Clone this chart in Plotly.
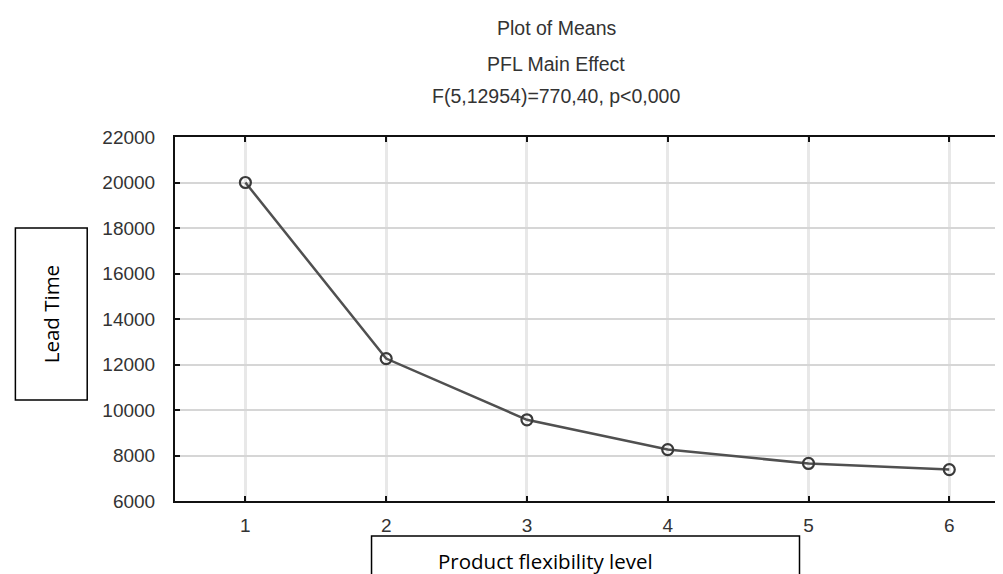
import plotly.graph_objects as go

# Plot of means: lead time by product flexibility level
levels = [1, 2, 3, 4, 5, 6]
lead_time = [20000, 12260, 9570, 8260, 7650, 7380]

y_ticks = [6000, 8000, 10000, 12000, 14000, 16000, 18000, 20000, 22000]

title_lines = ["Plot of Means", "PFL Main Effect", "F(5,12954)=770,40, p<0,000"]
x_title = "Product flexibility level"
y_title = "Lead Time"

# plot area in pixels
W, H = 1003, 574
L, R, T, B = 167, 1001, 129, 493


def px(x):
    return (x - L) / (R - L)


def py(y):
    return (B - y) / (B - T)


fig = go.Figure()
fig.add_trace(go.Scatter(
    x=levels, y=lead_time, mode="lines+markers",
    line=dict(color="#505050", width=2.5),
    marker=dict(symbol="circle-open", size=11, color="#3a3a3a", line=dict(width=2.2)),
    showlegend=False,
))

tick_font = dict(family="Liberation Sans, Arial", size=19, color="#333")

fig.update_xaxes(
    range=[0.5, 6.41], tickvals=levels, ticktext=[str(v) for v in levels],
    showgrid=True, gridcolor="#e8e8e8", gridwidth=3,
    showline=True, linecolor="#111", linewidth=2, mirror="ticks",
    ticks="inside", ticklen=5, tickcolor="#111", tickwidth=2,
    tickfont=tick_font, ticklabelstandoff=6, zeroline=False,
)
fig.update_yaxes(
    range=[6000, 22000], tickvals=y_ticks, ticktext=[str(v) for v in y_ticks],
    showgrid=True, gridcolor="#d6d6d6", gridwidth=1.5,
    showline=True, linecolor="#111", linewidth=2, mirror="ticks",
    ticks="inside", ticklen=5, tickcolor="#111", tickwidth=1.5,
    tickfont=tick_font, ticklabelstandoff=14, zeroline=False,
)

title_y = [20, 56, 88]
for txt, yy in zip(title_lines, title_y):
    fig.add_annotation(
        text=txt, x=px(549), y=py(yy), xref="paper", yref="paper",
        xanchor="center", yanchor="middle", showarrow=False,
        font=dict(family="Liberation Sans, Arial", size=19.5, color="#333"),
    )

box_font = dict(family="Open Sans", size=20.5, color="#000")

# y title box
fig.add_shape(type="rect", xref="paper", yref="paper",
              x0=px(7), x1=px(79), y0=py(392), y1=py(220),
              line=dict(color="#000", width=1.5), fillcolor="white")
fig.add_annotation(text=y_title, x=px(43), y=py(306), xref="paper", yref="paper",
                   textangle=-90, showarrow=False, xanchor="center", yanchor="middle",
                   font=box_font)

# x title box
fig.add_shape(type="rect", xref="paper", yref="paper",
              x0=px(364), x1=px(793), y0=py(573), y1=py(528),
              line=dict(color="#000", width=1.5), fillcolor="white")
fig.add_annotation(text=x_title, x=px(538), y=py(553), xref="paper", yref="paper",
                   showarrow=False, xanchor="center", yanchor="middle",
                   font=box_font)

fig.update_layout(
    width=W, height=H,
    margin=dict(l=L, r=W - R, t=T, b=H - B, pad=0),
    paper_bgcolor="white", plot_bgcolor="white",
)

fig.write_html("out.html")
